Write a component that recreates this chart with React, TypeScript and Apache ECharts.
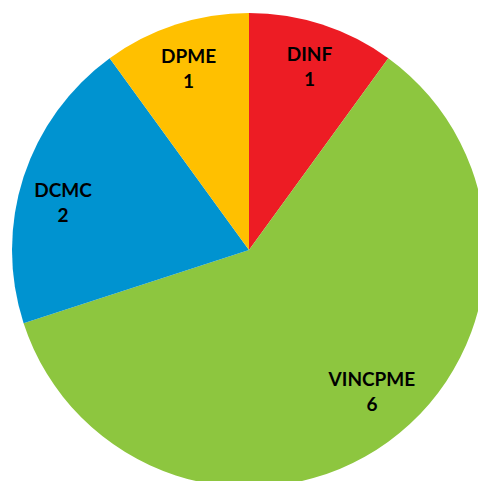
import React, { useEffect, useRef } from "react";
import * as echarts from "echarts";

const categories = ["DINF", "VINCPME", "DCMC", "DPME"];
const values = [1, 6, 2, 1];
const colors = ["#ED1C24", "#8DC63F", "#0093D0", "#FFC000"];

export default function App() {
  const ref = useRef<HTMLDivElement>(null);
  useEffect(() => {
    document.body.style.margin = "0";
    const chart = echarts.init(ref.current!, null, { renderer: "svg" });
    const fmt = (p: any) => {
      const b = p.name;
      const c = p.value;
      switch (p.dataIndex) {
        case 0:
          return `{s4| }\n${b}\n${c}`;
        case 1:
          return `{w| }${b}\n{w| }${c}\n{s34| }`;
        case 2:
          return `{s24| }\n${b}\n${c}`;
        default:
          return `{s8| }\n${b}\n${c}`;
      }
    };
    chart.setOption({
      animation: false,
      backgroundColor: "#ffffff",
      series: [
        {
          type: "pie",
          center: [249, 250],
          radius: [0, 237],
          startAngle: 90,
          clockwise: true,
          silent: true,
          label: { show: false },
          labelLine: { show: false },
          itemStyle: { borderWidth: 0 },
          data: categories.map((name, i) => ({
            name,
            value: values[i],
            itemStyle: { color: colors[i] },
          })),
        },
        {
          type: "pie",
          center: [249, 250],
          radius: [148, 237],
          startAngle: 90,
          clockwise: true,
          silent: true,
          itemStyle: { color: "rgba(0,0,0,0)", borderWidth: 0 },
          label: {
            show: true,
            position: "inside",
            formatter: fmt,
            fontFamily: "Lato",
            fontWeight: "bold",
            fontSize: 19,
            lineHeight: 25,
            color: "#000000",
            align: "center",
            rich: {
              s4: { fontSize: 1, lineHeight: 4 },
              s8: { fontSize: 1, lineHeight: 8 },
              s24: { fontSize: 1, lineHeight: 24 },
              s34: { fontSize: 1, lineHeight: 34 },
              w: { fontSize: 1, width: 16, lineHeight: 25 },
            },
          },
          labelLine: { show: false },
          data: categories.map((name, i) => ({ name, value: values[i] })),
        },
      ],
    });
    return () => chart.dispose();
  }, []);
  return (
    <div
      ref={ref}
      style={{ position: "absolute", left: 0, top: 0, width: 478, height: 481 }}
    />
  );
}
